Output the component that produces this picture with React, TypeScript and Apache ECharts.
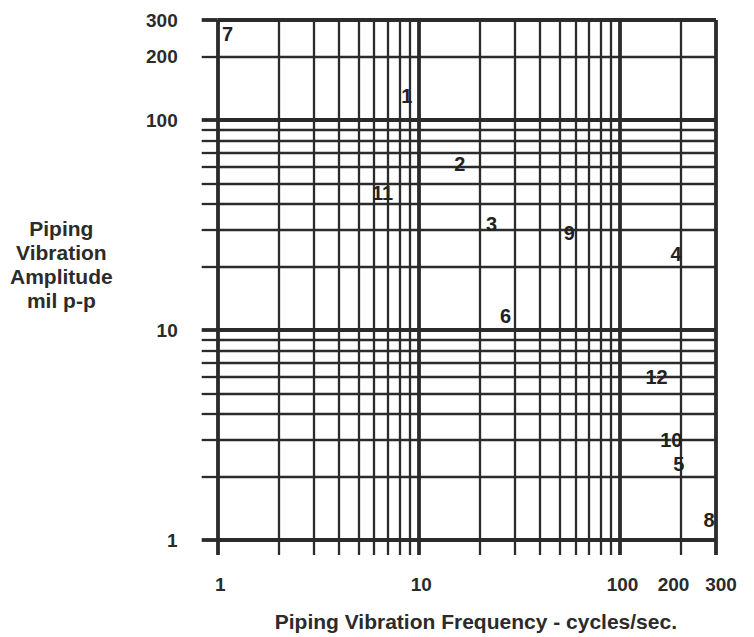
import React, { useEffect, useRef } from "react";
import * as echarts from "echarts";

const pointLabels = ["1", "2", "3", "4", "5", "6", "7", "8", "9", "10", "11", "12"];
const freqValues = [8.7, 16, 23, 190, 196, 27, 1.12, 277, 56, 180, 6.6, 152];
const ampValues = [130, 62, 32, 23, 2.3, 11.7, 258, 1.24, 29, 3.0, 45, 6.0];

const minorGridX = [2, 3, 4, 5, 6, 7, 8, 9, 20, 30, 40, 50, 60, 70, 80, 90, 200];
const majorGridX = [1, 10, 100, 300];
const minorGridY = [2, 3, 4, 5, 6, 7, 8, 9, 20, 30, 40, 50, 60, 70, 80, 90, 200];
const majorGridY = [1, 10, 100, 300];
const xTickLabels = [1, 10, 100, 200, 300];
const yTickLabels = [1, 10, 100, 200, 300];

const INK = "#2b2b2b";
const FONT = "Liberation Sans, Arial, sans-serif";

export default function App() {
  const ref = useRef<HTMLDivElement>(null);
  useEffect(() => {
    document.body.style.margin = "0";
    if (!ref.current) return;
    const chart = echarts.init(ref.current, undefined, { renderer: "svg" });
    const baseX = {
      type: "log",
      logBase: 10,
      min: 1,
      max: 300,
      position: "bottom",
      gridIndex: 0,
      axisLine: { show: false },
    };
    const baseY = {
      type: "log",
      logBase: 10,
      min: 1,
      max: 300,
      position: "left",
      gridIndex: 0,
      axisLine: { show: false },
    };
    const tickFont = { fontFamily: FONT, fontWeight: "bold", fontSize: 19, color: INK };
    chart.setOption({
      animation: false,
      backgroundColor: "#ffffff",
      grid: { left: 217.7, top: 20, right: 38, bottom: 95.3, containLabel: false },
      xAxis: [
        {
          ...baseX,
          name: "Piping Vibration Frequency - cycles/sec.",
          nameLocation: "middle",
          nameGap: 71,
          nameTextStyle: { fontFamily: FONT, fontWeight: "bold", fontSize: 21, color: INK, padding: [0, 0, 0, 18] },
          axisTick: { show: true, inside: false, length: 15, customValues: minorGridX, lineStyle: { color: INK, width: 2.3 } },
          axisLabel: { show: false },
          splitLine: { show: true, lineStyle: { color: INK, width: 2.3 } },
        },
        {
          ...baseX,
          axisTick: { show: true, inside: false, length: 15, customValues: majorGridX, lineStyle: { color: INK, width: 3.8 } },
          axisLabel: {
            show: true,
            customValues: xTickLabels,
            margin: 35,
            ...tickFont,
            formatter: (v: number) => {
              const r = Math.round(v);
              if (r === 300) return "{c|300}";
              if (r === 200) return "{b|200}";
              return "{a|" + r + "}";
            },
            rich: {
              a: { ...tickFont, padding: [0, 0, 0, 5] },
              b: { ...tickFont, padding: [0, 14, 0, 0] },
              c: { ...tickFont, padding: [0, 0, 0, 10] },
            },
          },
          splitLine: { show: true, lineStyle: { color: INK, width: 3.8 } },
        },
      ],
      yAxis: [
        {
          ...baseY,
          axisTick: { show: true, inside: false, length: 16, customValues: minorGridY, lineStyle: { color: INK, width: 2.3 } },
          axisLabel: { show: false },
          splitLine: { show: true, lineStyle: { color: INK, width: 2.3 } },
        },
        {
          ...baseY,
          axisTick: { show: true, inside: false, length: 16, customValues: majorGridY, lineStyle: { color: INK, width: 3.8 } },
          axisLabel: {
            show: true,
            customValues: yTickLabels,
            margin: 40,
            ...tickFont,
            formatter: (v: number) => String(Math.round(v)),
          },
          splitLine: { show: true, lineStyle: { color: INK, width: 3.8 } },
        },
      ],
      graphic: [
        {
          type: "text",
          left: 10,
          top: 216,
          style: {
            text: "Piping\nVibration\nAmplitude\nmil p-p",
            x: 50,
            fontFamily: FONT,
            fontWeight: "bold",
            fontSize: 21,
            lineHeight: 24,
            fill: INK,
            textAlign: "center",
          },
        },
      ],
      series: [
        {
          type: "scatter",
          xAxisIndex: 0,
          yAxisIndex: 0,
          symbolSize: 1,
          itemStyle: { color: "#ffffff", opacity: 1 },
          data: freqValues.map((x, i) => ({ name: pointLabels[i], value: [x, ampValues[i]] })),
          label: {
            show: true,
            position: "inside",
            formatter: "{b}",
            fontFamily: FONT,
            fontWeight: "bold",
            fontSize: 20,
            color: "#222222",
            opacity: 1,
            textBorderWidth: 0,
          },
          emphasis: { disabled: true },
          z: 10,
        },
      ],
    });
    return () => chart.dispose();
  }, []);
  return <div ref={ref} style={{ width: 754, height: 637 }} />;
}
